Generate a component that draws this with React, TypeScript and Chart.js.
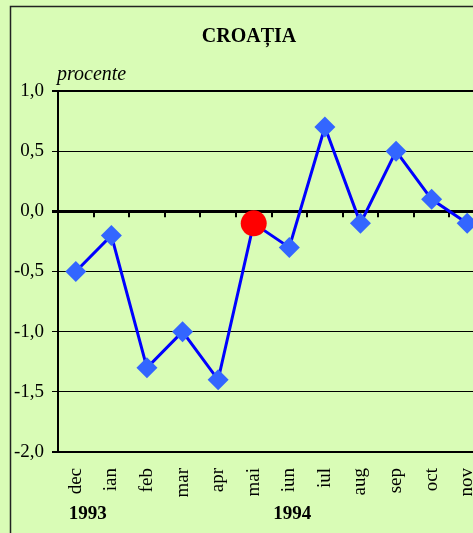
import React, { useEffect, useRef } from "react";
import { Chart, registerables } from "chart.js";

Chart.register(...registerables);

const months = ["dec", "ian", "feb", "mar", "apr", "mai", "iun", "iul", "aug", "sep", "oct", "nov"];
const values = [-0.5, -0.2, -1.3, -1.0, -1.4, -0.1, -0.3, 0.7, -0.1, 0.5, 0.1, -0.1];
const highlightIndex = 5;
const yearLabels = ["1993", "1994"];
const yearAnchorIndex = [0, 6];
const titleText = "CROAȚIA";
const unitText = "procente";

const BG = "rgb(217,252,182)";
const SERIF = "'Liberation Serif', 'Times New Roman', serif";
const W = 500;
const H = 545;

export default function App() {
  const ref = useRef<HTMLCanvasElement | null>(null);

  useEffect(() => {
    const canvas = ref.current;
    if (!canvas) return;

    const decor = {
      id: "decor",
      beforeDraw(chart: any) {
        const { ctx } = chart;
        ctx.save();
        ctx.fillStyle = BG;
        ctx.fillRect(0, 0, chart.width, chart.height);
        ctx.restore();
      },
      beforeDatasetsDraw(chart: any) {
        const { ctx, scales } = chart;
        const xs = scales.x;
        const ys = scales.y;
        const y0 = ys.getPixelForValue(0);
        ctx.save();
        ctx.strokeStyle = "#000";
        ctx.lineWidth = 2;
        for (let i = 1; i < months.length; i++) {
          const bx = Math.round(xs.getPixelForValue(i - 0.5));
          ctx.beginPath();
          ctx.moveTo(bx, y0);
          ctx.lineTo(bx, y0 + 6);
          ctx.stroke();
        }
        ctx.restore();
      },
      afterDraw(chart: any) {
        const { ctx, scales, chartArea } = chart;
        const xs = scales.x;
        ctx.save();
        ctx.strokeStyle = "#222";
        ctx.lineWidth = 1.5;
        ctx.strokeRect(10.5, 6.5, 478, 536);
        ctx.fillStyle = "#000";
        ctx.font = `bold 20px ${SERIF}`;
        ctx.textAlign = "center";
        ctx.textBaseline = "alphabetic";
        ctx.fillText(titleText, 249, 42);
        ctx.font = `italic 20px ${SERIF}`;
        ctx.textAlign = "left";
        ctx.fillText(unitText, chartArea.left - 1, 80);
        ctx.font = `bold 19px ${SERIF}`;
        ctx.textAlign = "center";
        const offs = [12, 3];
        yearLabels.forEach((t, i) => {
          const px = xs.getPixelForValue(yearAnchorIndex[i]) + offs[i];
          ctx.fillText(t, px, 519);
        });
        ctx.restore();
      },
    };

    const chart = new Chart(canvas, {
      type: "line",
      data: {
        labels: months,
        datasets: [
          {
            data: values,
            borderColor: "#0000FF",
            borderWidth: 3,
            tension: 0,
            pointStyle: values.map((_, i) => (i === highlightIndex ? "circle" : "rectRot")) as any,
            pointRadius: values.map((_, i) => (i === highlightIndex ? 13 : 10.5)),
            pointHoverRadius: values.map((_, i) => (i === highlightIndex ? 13 : 10.5)),
            pointBackgroundColor: values.map((_, i) => (i === highlightIndex ? "#FF0000" : "#3366FF")),
            pointBorderWidth: 0,
            clip: false as any,
          },
        ],
      },
      options: {
        animation: false,
        responsive: false,
        maintainAspectRatio: false,
        layout: { padding: { left: 0, top: 91, right: W - 485, bottom: 0 } },
        plugins: {
          legend: { display: false },
          title: { display: false },
          tooltip: { enabled: false },
        },
        scales: {
          x: {
            type: "category",
            offset: true,
            grid: { display: false },
            border: { display: false },
            ticks: {
              minRotation: 90,
              maxRotation: 90,
              autoSkip: false,
              padding: 8,
              color: "#000",
              font: { family: SERIF, size: 19 },
            },
            afterFit: (s: any) => {
              s.height = H - 452;
            },
          },
          y: {
            min: -2,
            max: 1,
            ticks: {
              stepSize: 0.5,
              padding: 8,
              color: "#000",
              font: { family: SERIF, size: 19 },
              callback: (v: any) => Number(v).toFixed(1).replace(".", ","),
            },
            grid: {
              color: "#000",
              lineWidth: (c: any) => {
                const v = c.tick ? c.tick.value : null;
                if (v === 0) return 3;
                if (v === 1 || v === -2) return 2;
                return 1;
              },
              tickLength: 6,
              drawTicks: true,
            },
            border: { display: true, color: "#000", width: 2 },
            afterFit: (s: any) => {
              s.width = 58;
            },
          },
        },
      },
      plugins: [decor],
    });

    return () => chart.destroy();
  }, []);

  return (
    <div style={{ position: "absolute", left: 0, top: 0, width: W, height: H, background: BG }}>
      <canvas ref={ref} width={W} height={H} style={{ display: "block", width: W, height: H }} />
    </div>
  );
}
